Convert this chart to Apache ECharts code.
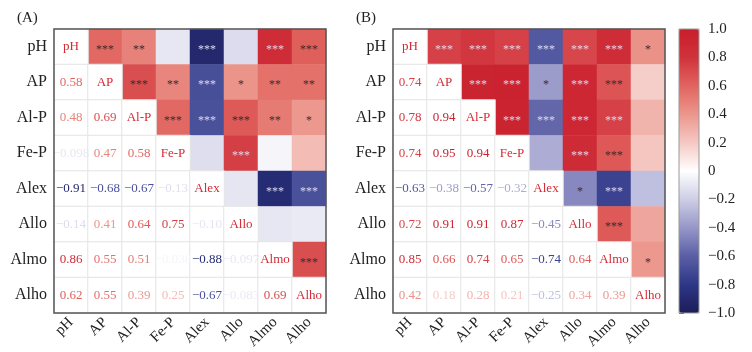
<!DOCTYPE html>
<html>
<head>
<meta charset="utf-8">
<title>corr</title>
<script src="https://cdn.jsdelivr.net/npm/echarts@6/dist/echarts.min.js"></script>
<style>
  body { margin: 0; background: #fff; }
  #chart { width: 752px; height: 352px; }
</style>
</head>
<body>
<div id="chart"></div>
<script>
// variables (rows/cols)
var vars = ['pH', 'AP', 'Al-P', 'Fe-P', 'Alex', 'Allo', 'Almo', 'Alho'];

// lower triangle correlations, row i has cols 0..i-1
var corrA = [
  [],
  [0.58],
  [0.48, 0.69],
  [-0.098, 0.47, 0.58],
  [-0.91, -0.68, -0.67, -0.13],
  [-0.14, 0.41, 0.64, 0.75, -0.10],
  [0.86, 0.55, 0.51, -0.038, -0.88, -0.097],
  [0.62, 0.55, 0.39, 0.25, -0.67, -0.083, 0.69]
];
// significance marks, upper triangle, row i has cols i+1..7
var starsA = [
  ['***', '**', '', '***', '', '***', '***'],
  ['***', '**', '***', '*', '**', '**'],
  ['***', '***', '***', '**', '*'],
  ['', '***', '', ''],
  ['', '***', '***'],
  ['', ''],
  ['***'],
  []
];

var corrB = [
  [],
  [0.74],
  [0.78, 0.94],
  [0.74, 0.95, 0.94],
  [-0.63, -0.38, -0.57, -0.32],
  [0.72, 0.91, 0.91, 0.87, -0.45],
  [0.85, 0.66, 0.74, 0.65, -0.74, 0.64],
  [0.42, 0.18, 0.28, 0.21, -0.25, 0.34, 0.39]
];
var starsB = [
  ['***', '***', '***', '***', '***', '***', '*'],
  ['***', '***', '*', '***', '***', ''],
  ['***', '***', '***', '***', ''],
  ['', '***', '***', ''],
  ['*', '***', ''],
  ['***', ''],
  ['*'],
  []
];

// colour scale from -1 to 1 (even steps of 0.2)
var scaleColors = [
  [28, 28, 88], [45, 55, 135], [90, 95, 165], [150, 150, 200], [205, 205, 230],
  [255, 255, 255],
  [245, 200, 195], [235, 150, 140], [225, 100, 95], [208, 50, 60], [200, 30, 43]
];
function hex(c) {
  return '#' + c.map(function (x) { return ('0' + Math.round(x).toString(16)).slice(-2); }).join('');
}
function colorOf(v) {
  var t = (v + 1) / 2 * (scaleColors.length - 1);
  var i = Math.min(Math.floor(t), scaleColors.length - 2);
  var f = t - i, a = scaleColors[i], b = scaleColors[i + 1];
  return hex([a[0] + (b[0] - a[0]) * f, a[1] + (b[1] - a[1]) * f, a[2] + (b[2] - a[2]) * f]);
}
function fmt(v) {
  var s = Math.abs(v) < 0.1 ? v.toFixed(3) : v.toFixed(2);
  return s.replace('-', '\u2212');
}

var serif = 'Liberation Serif';

function buildSeries(corr, stars, gi) {
  var upper = [], text = [];
  for (var i = 0; i < vars.length; i++) {
    for (var j = 0; j < vars.length; j++) {
      if (j < i) {
        var v = corr[i][j];
        text.push({ value: [j, i, v], txt: fmt(v), label: { color: colorOf(v) } });
      } else if (j === i) {
        text.push({ value: [j, i, 1], txt: vars[i], label: { color: '#d42a35' } });
      } else {
        var c = corr[j][i];
        var light = c > 0.7 || c < -0.5;
        upper.push({ value: [j, i, c], txt: stars[i][j - i - 1],
          label: { color: light ? '#dcd8ee' : '#3a2a2a' } });
      }
    }
  }
  return [{
    type: 'heatmap', xAxisIndex: gi, yAxisIndex: gi, data: upper,
    label: { show: true, fontFamily: serif, fontSize: 12, offset: [0, 3],
      formatter: function (p) { return p.data.txt; } },
    emphasis: { disabled: true }
  }, {
    type: 'heatmap', xAxisIndex: gi, yAxisIndex: gi, data: text,
    itemStyle: { color: '#fff', borderColor: '#e4e4e4', borderWidth: 1 },
    label: { show: true, fontFamily: serif, fontSize: 13,
      formatter: function (p) { return p.data.txt; } },
    emphasis: { disabled: true }
  }];
}

var grids = [
  { left: 54, top: 29, width: 272, height: 284 },
  { left: 393, top: 29, width: 272, height: 284 }
];

var xAxes = [], yAxes = [];
[0, 1].forEach(function (g) {
  xAxes.push({ type: 'category', gridIndex: g, data: vars,
    axisLine: { show: false }, axisTick: { show: false }, splitLine: { show: false },
    axisLabel: { rotate: 45, margin: 7, fontFamily: serif, fontSize: 15, color: '#222', interval: 0 } });
  yAxes.push({ type: 'category', gridIndex: g, data: vars, inverse: true,
    axisLine: { show: false }, axisTick: { show: false }, splitLine: { show: false },
    axisLabel: { margin: 7, fontFamily: serif, fontSize: 16, color: '#222', interval: 0 } });
});

// colour bar axis
var gridsAll = grids.map(function (g) {
  return Object.assign({ show: true, borderColor: '#555', borderWidth: 1.5, z: 10 }, g);
});
gridsAll.push({ left: 679, top: 29, width: 20, height: 284, show: true, borderColor: '#999', borderWidth: 1, z: 10 });
xAxes.push({ type: 'value', gridIndex: 2, show: false, min: 0, max: 1 });
yAxes.push({ type: 'value', gridIndex: 2, position: 'right', min: -1, max: 1, interval: 0.2,
  axisLine: { show: false }, splitLine: { show: false },
  axisTick: { show: true, length: 5, lineStyle: { color: '#555' } },
  axisLabel: { margin: 9, fontFamily: serif, fontSize: 15, color: '#222',
    formatter: function (v) {
      var r = Math.round(v * 10) / 10;
      return r === 0 ? '0' : r.toFixed(1).replace('-', '\u2212');
    } } });

var series = buildSeries(corrA, starsA, 0).concat(buildSeries(corrB, starsB, 1));

var chart = echarts.init(document.getElementById('chart'));
chart.setOption({
  animation: false,
  backgroundColor: '#fff',
  title: [
    { text: '(A)', left: 12, top: 6, textStyle: { fontFamily: serif, fontSize: 15, fontWeight: 'normal', color: '#222' } },
    { text: '(B)', left: 351, top: 6, textStyle: { fontFamily: serif, fontSize: 15, fontWeight: 'normal', color: '#222' } }
  ],
  grid: gridsAll,
  xAxis: xAxes,
  yAxis: yAxes,
  visualMap: {
    type: 'continuous', min: -1, max: 1, seriesIndex: [0, 2],
    left: 679, top: 29, itemWidth: 20, itemHeight: 284, padding: 0,
    calculable: false, hoverLink: false, text: null, showLabel: false,
    inRange: { color: scaleColors.map(hex) }
  },
  series: series
});
</script>
</body>
</html>
